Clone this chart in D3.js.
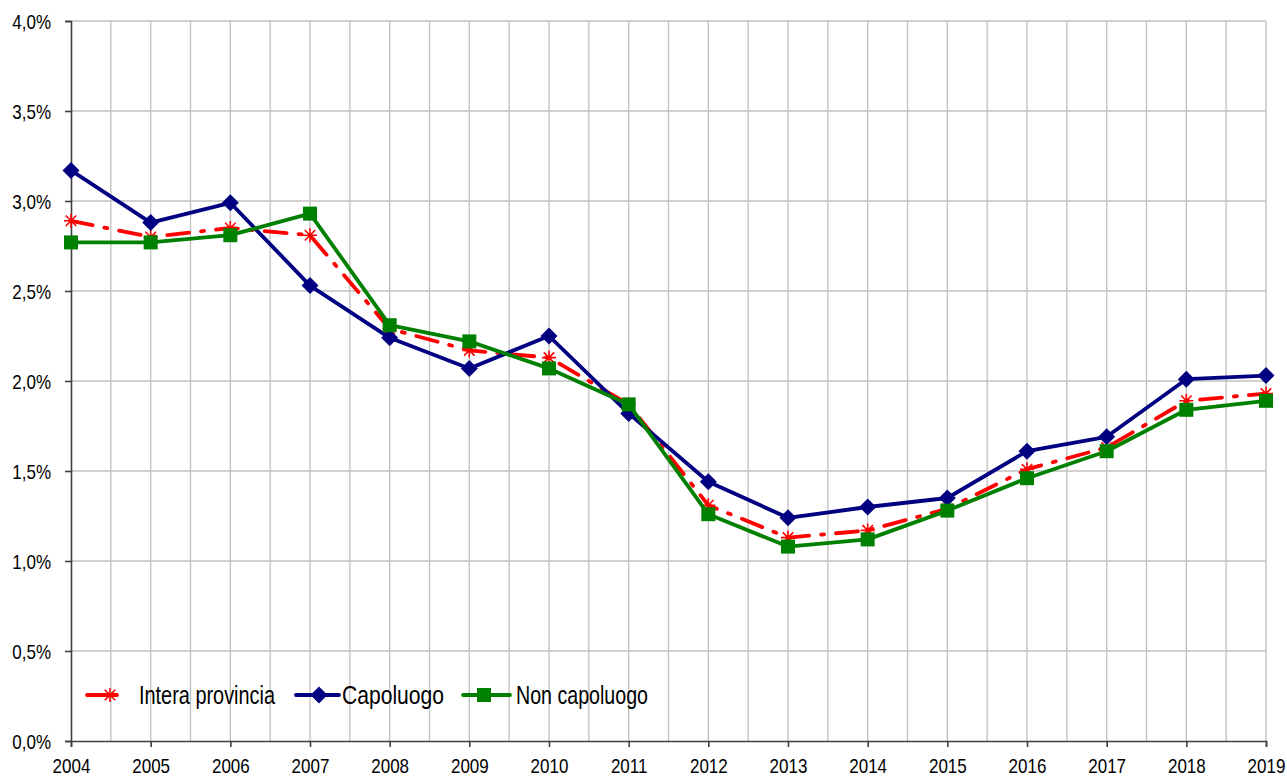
<!DOCTYPE html>
<html>
<head>
<meta charset="utf-8">
<script src="https://cdn.jsdelivr.net/npm/d3@7"></script>
<style>
  body { margin: 0; background: #fff; }
  svg { display: block; font-family: "Liberation Sans", Arial, sans-serif; }
</style>
</head>
<body>
<svg id="chart" width="1287" height="778"></svg>
<script>
const years = [2004, 2005, 2006, 2007, 2008, 2009, 2010, 2011, 2012, 2013, 2014, 2015, 2016, 2017, 2018, 2019]
const interaProvincia = [2.89, 2.80, 2.85, 2.81, 2.29, 2.17, 2.13, 1.87, 1.31, 1.13, 1.17, 1.29, 1.51, 1.63, 1.89, 1.93]
const capoluogo = [3.17, 2.88, 2.99, 2.53, 2.24, 2.07, 2.25, 1.82, 1.44, 1.24, 1.30, 1.35, 1.61, 1.69, 2.01, 2.03]
const nonCapoluogo = [2.77, 2.77, 2.81, 2.93, 2.31, 2.22, 2.07, 1.87, 1.26, 1.08, 1.12, 1.28, 1.46, 1.61, 1.84, 1.89]
const yTicks = [0, 0.5, 1, 1.5, 2, 2.5, 3, 3.5, 4]

const margin = { top: 21, right: 21, bottom: 37, left: 71 }
const width = 1287
const height = 778
// the original uses a narrow font, so labels are squeezed horizontally
const SQUEEZE = 0.85

const series = [
  { name: 'Intera provincia', values: interaProvincia, color: '#ff0000', marker: 'star', dash: '22,12,3,12' },
  { name: 'Capoluogo', values: capoluogo, color: '#000080', marker: 'diamond', dash: null },
  { name: 'Non capoluogo', values: nonCapoluogo, color: '#008000', marker: 'square', dash: null }
]

const svg = d3.select('#chart')

const x = d3.scaleLinear()
  .domain([years[0], years[years.length - 1]])
  .range([margin.left, width - margin.right])

const y = d3.scaleLinear()
  .domain([0, 4])
  .range([height - margin.bottom, margin.top])

const fmt = d => d.toFixed(1).replace('.', ',') + '%'

// Grid
const grid = svg.append('g').attr('stroke', '#c0c0c0').attr('stroke-width', 1.3)
const halfYears = d3.range(years[0], years[years.length - 1] + 0.01, 0.5)
grid.selectAll('.vg').data(halfYears.slice(1)).enter().append('line')
  .attr('x1', d => x(d)).attr('x2', d => x(d))
  .attr('y1', y(4)).attr('y2', y(0))
grid.selectAll('.hg').data(yTicks.slice(1)).enter().append('line')
  .attr('x1', x(years[0])).attr('x2', x(years[years.length - 1]))
  .attr('y1', d => y(d)).attr('y2', d => y(d))

// Axes
const yAxis = svg.append('g')
  .attr('transform', `translate(${margin.left},0)`)
  .call(d3.axisLeft(y).tickValues(yTicks).tickFormat(fmt).tickSize(6).tickPadding(14))
const xAxis = svg.append('g')
  .attr('transform', `translate(0,${y(0)})`)
  .call(d3.axisBottom(x).tickValues(years).tickFormat(d3.format('d')).tickSize(6).tickPadding(12))

for (const ax of [xAxis, yAxis]) {
  ax.select('.domain').attr('stroke', '#404040').attr('stroke-width', 1.6)
  ax.selectAll('.tick line').attr('stroke', '#404040').attr('stroke-width', 1.6)
  ax.selectAll('.tick text').attr('fill', '#000').style('font-size', '20px')
    .style('font-family', '"Liberation Sans", Arial, sans-serif')
    .attr('transform', `scale(${SQUEEZE},1)`)
}
yAxis.selectAll('.tick text').attr('dy', '0.35em').attr('x', -20 / SQUEEZE)

function drawMarker(g, type, color) {
  if (type === 'diamond') {
    g.append('path').attr('d', 'M0,-8.5L8.5,0L0,8.5L-8.5,0Z').attr('fill', color)
  } else if (type === 'square') {
    g.append('rect').attr('x', -7).attr('y', -7).attr('width', 14).attr('height', 14).attr('fill', color)
  } else {
    const s = 7
    g.append('path')
      .attr('d', `M${-s},0L${s},0M0,${-s}L0,${s}M${-s*0.75},${-s*0.75}L${s*0.75},${s*0.75}M${-s*0.75},${s*0.75}L${s*0.75},${-s*0.75}`)
      .attr('stroke', color).attr('stroke-width', 1.6).attr('fill', 'none')
  }
}

const line = d3.line()
  .x((d, i) => x(years[i]))
  .y(d => y(d))

// draw order: red, blue, green on top
series.forEach(s => {
  const g = svg.append('g')
  g.append('path')
    .datum(s.values)
    .attr('fill', 'none')
    .attr('stroke', s.color)
    .attr('stroke-width', 3.8)
    .attr('stroke-linecap', s.dash ? 'round' : 'butt')
    .attr('stroke-linejoin', 'round')
    .attr('stroke-dasharray', s.dash)
    .attr('d', line)
  s.values.forEach((v, i) => {
    const m = g.append('g').attr('transform', `translate(${x(years[i])},${y(v)})`)
    drawMarker(m, s.marker, s.color)
  })
})

// Legend
const legendY = 695
const legendItems = [
  { s: series[0], x1: 87, x2: 117, mx: 110, tx: 139, tw: 136 },
  { s: series[1], x1: 296, x2: 339, mx: 319, tx: 342, tw: 102 },
  { s: series[2], x1: 463, x2: 510, mx: 484, tx: 516, tw: 132 }
]
const legend = svg.append('g')
legendItems.forEach(it => {
  legend.append('line')
    .attr('x1', it.x1).attr('x2', it.x2)
    .attr('y1', legendY).attr('y2', legendY)
    .attr('stroke', it.s.color).attr('stroke-width', 3.8)
    .attr('stroke-linecap', 'round')
  const m = legend.append('g').attr('transform', `translate(${it.mx},${legendY})`)
  drawMarker(m, it.s.marker, it.s.color)
  legend.append('text')
    .attr('x', it.tx).attr('y', legendY)
    .attr('dy', '0.35em')
    .attr('textLength', it.tw)
    .attr('lengthAdjust', 'spacingAndGlyphs')
    .style('font-size', '25px')
    .attr('fill', '#000')
    .text(it.s.name)
})
</script>
</body>
</html>
